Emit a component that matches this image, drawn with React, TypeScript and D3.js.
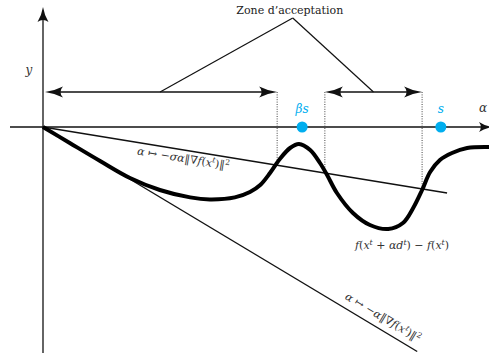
import React from "react";
import * as d3 from "d3";

const W = 489;
const H = 353;

// Step length alpha and the resulting decrease f(x^t + alpha d^t) - f(x^t)
const alphaValues = [0, 0.6, 1.28, 1.95, 2.62, 3.3, 3.74, 4.3, 4.64, 4.87, 5.09, 5.31, 5.54, 5.74, 5.99, 6.21, 6.37, 6.59, 6.95, 7.33, 7.74, 8.07, 8.3, 8.5, 8.68, 8.9, 9.17, 9.51, 10];
const phiValues = [0, -0.8, -1.7, -2.55, -3.15, -3.52, -3.62, -3.52, -3.25, -2.9, -2.3, -1.6, -1.05, -0.85, -1.15, -1.8, -2.4, -3.3, -4.3, -4.9, -5.1, -4.8, -4.05, -3.15, -2.25, -1.65, -1.3, -1.05, -1.0];

// Armijo line (slope -sigma*||grad||^2) and tangent line (slope -||grad||^2)
const sigmaSlope = -0.364;
const sigmaEnd = 9.06;
const gradSlope = -1.338;
const gradEnd = 8.39;

// Acceptance intervals and their arrow level
const zoneStarts = [0, 6.32];
const zoneEnds = [5.25, 8.5];
const zoneLevel = 1.75;
const zoneTitle = "Zone d’acceptation";
const zoneApex = [5.6, 5.45];

// Step markers on the alpha axis
const stepNames = ["βs", "s"];
const stepValues = [5.81, 8.92];

const x = d3.scaleLinear().domain([0, 10]).range([43, 489]);
const y = d3.scaleLinear().domain([0, -1]).range([127, 147]);

const INK = "#111";
const CYAN = "#00AEEF";
const MATH_FONT = "DejaVu Serif";

type Piece = { t: string; sup?: boolean; it?: boolean };

function MathText({ pieces, size, ...rest }: { pieces: Piece[]; size: number; [k: string]: any }) {
  let raised = false;
  return (
    <text fontFamily={MATH_FONT} fontSize={size} fill="#333" {...rest}>
      {pieces.map((p, i) => {
        let dy = 0;
        if (p.sup && !raised) { dy = -size * 0.4; raised = true; }
        else if (!p.sup && raised) { dy = size * 0.4; raised = false; }
        return (
          <tspan key={i} dy={dy || undefined} fontSize={p.sup ? size * 0.7 : size} fontStyle={p.it === false ? "normal" : "italic"}>
            {p.t}
          </tspan>
        );
      })}
    </text>
  );
}

// Concave arrowhead pointing along +x with its tip at the origin
function headPath(len: number, wid: number) {
  const h = wid / 2;
  return `M0,0 Q${-len * 0.55},${-h * 0.25} ${-len},${-h} Q${-len * 0.72},0 ${-len},${h} Q${-len * 0.55},${h * 0.25} 0,0 Z`;
}

function Head({ px, py, angle, len, wid }: { px: number; py: number; angle: number; len: number; wid: number }) {
  return <path d={headPath(len, wid)} transform={`translate(${px},${py}) rotate(${angle})`} fill={INK} />;
}

const pieceSigma: Piece[] = [{ t: "α ", it: true }, { t: "↦ −", it: false }, { t: "σα", it: true }, { t: "‖∇", it: false }, { t: "f", it: true }, { t: "(", it: false }, { t: "x", it: true }, { t: "t", sup: true }, { t: ")‖", it: false }, { t: "2", sup: true, it: false }];
const pieceGrad: Piece[] = [{ t: "α ", it: true }, { t: "↦ −", it: false }, { t: "α", it: true }, { t: "‖∇", it: false }, { t: "f", it: true }, { t: "(", it: false }, { t: "x", it: true }, { t: "t", sup: true }, { t: ")‖", it: false }, { t: "2", sup: true, it: false }];
const pieceCurve: Piece[] = [{ t: "f", it: true }, { t: "(", it: false }, { t: "x", it: true }, { t: "t", sup: true }, { t: " + ", it: false }, { t: "αd", it: true }, { t: "t", sup: true }, { t: ") − ", it: false }, { t: "f", it: true }, { t: "(", it: false }, { t: "x", it: true }, { t: "t", sup: true }, { t: ")", it: false }];

export default function App() {
  const curve = d3
    .line<number>()
    .x((_, i) => x(alphaValues[i]))
    .y((d) => y(d))
    .curve(d3.curveCatmullRom.alpha(0.5));

  const x0 = x(0);
  const y0 = y(0);
  const axisLeft = 10;
  const yTop = 7;
  const xTip = 492;
  const levelY = y(zoneLevel);

  const sigmaAngle = (Math.atan2(y(sigmaSlope) - y(0), x(1) - x(0)) * 180) / Math.PI;
  const gradAngle = (Math.atan2(y(gradSlope) - y(0), x(1) - x(0)) * 180) / Math.PI;

  const sigmaLabelA = 3.18;
  const gradLabelA = 7.49;

  const apexX = x(zoneApex[0]);
  const apexY = y(zoneApex[1]);

  return (
    <svg width={W} height={H} style={{ position: "absolute", left: 0, top: 0, background: "#fff" }}>
      {/* axes */}
      <line x1={axisLeft} y1={y0} x2={xTip - 6} y2={y0} stroke={INK} strokeWidth={1.3} />
      <Head px={xTip} py={y0} angle={0} len={13} wid={10} />
      <line x1={x0} y1={H} x2={x0} y2={yTop + 8} stroke={INK} strokeWidth={1.3} />
      <Head px={x0} py={yTop} angle={-90} len={15} wid={11} />
      <text x={29} y={74} fontFamily={MATH_FONT} fontStyle="italic" fontSize={12} fill="#333" textAnchor="middle">y</text>
      <text x={479} y={112} fontFamily={MATH_FONT} fontStyle="italic" fontSize={12} fill="#333">α</text>

      {/* dotted guides from the zone bounds down to the Armijo line */}
      {[...zoneStarts.slice(1), ...zoneEnds].map((a, i) => (
        <line key={i} x1={x(a)} y1={levelY} x2={x(a)} y2={y(sigmaSlope * a)} stroke="#444" strokeWidth={1} strokeDasharray="1,1.4" />
      ))}

      {/* acceptance zone double arrows */}
      {zoneStarts.map((a0, i) => {
        const a1 = zoneEnds[i];
        const xa = x(a0) + (i === 0 ? 2 : 0);
        const xb = x(a1);
        return (
          <g key={i}>
            <line x1={xa + 6} y1={levelY} x2={xb - 6} y2={levelY} stroke={INK} strokeWidth={1.3} />
            <Head px={xa} py={levelY} angle={180} len={18} wid={11} />
            <Head px={xb} py={levelY} angle={0} len={18} wid={11} />
            <line x1={apexX} y1={apexY} x2={x((a0 + a1) / 2)} y2={levelY} stroke={INK} strokeWidth={1.2} />
          </g>
        );
      })}
      <text x={apexX - 3} y={apexY - 4} fontFamily={MATH_FONT} fontSize={11} fill="#222" textAnchor="middle">{zoneTitle}</text>

      {/* Armijo and tangent lines */}
      <line x1={x(0)} y1={y(0)} x2={x(sigmaEnd)} y2={y(sigmaSlope * sigmaEnd)} stroke={INK} strokeWidth={1.4} />
      <line x1={x(0)} y1={y(0)} x2={x(gradEnd)} y2={y(gradSlope * gradEnd)} stroke={INK} strokeWidth={1.4} />

      {/* decrease function */}
      <path d={curve(phiValues) || ""} fill="none" stroke="#000" strokeWidth={4} strokeLinejoin="round" />

      {/* step markers */}
      {stepValues.map((a, i) => (
        <g key={i}>
          <circle cx={x(a)} cy={y0} r={5.5} fill={CYAN} />
          <text x={x(a)} y={y0 - 14} fontFamily={MATH_FONT} fontStyle="italic" fontSize={12} fill={CYAN} textAnchor="middle">{stepNames[i]}</text>
        </g>
      ))}

      {/* labels */}
      <g transform={`translate(${x(sigmaLabelA)},${y(sigmaSlope * sigmaLabelA)}) rotate(${sigmaAngle})`}>
        <MathText size={11} x={0} y={12} textAnchor="middle" pieces={pieceSigma} />
      </g>
      <g transform={`translate(${x(gradLabelA)},${y(gradSlope * gradLabelA)}) rotate(${gradAngle})`}>
        <MathText size={11} x={0} y={-8} textAnchor="middle" pieces={pieceGrad} />
      </g>
      <MathText size={11} x={402} y={249} textAnchor="middle" pieces={pieceCurve} />
    </svg>
  );
}
